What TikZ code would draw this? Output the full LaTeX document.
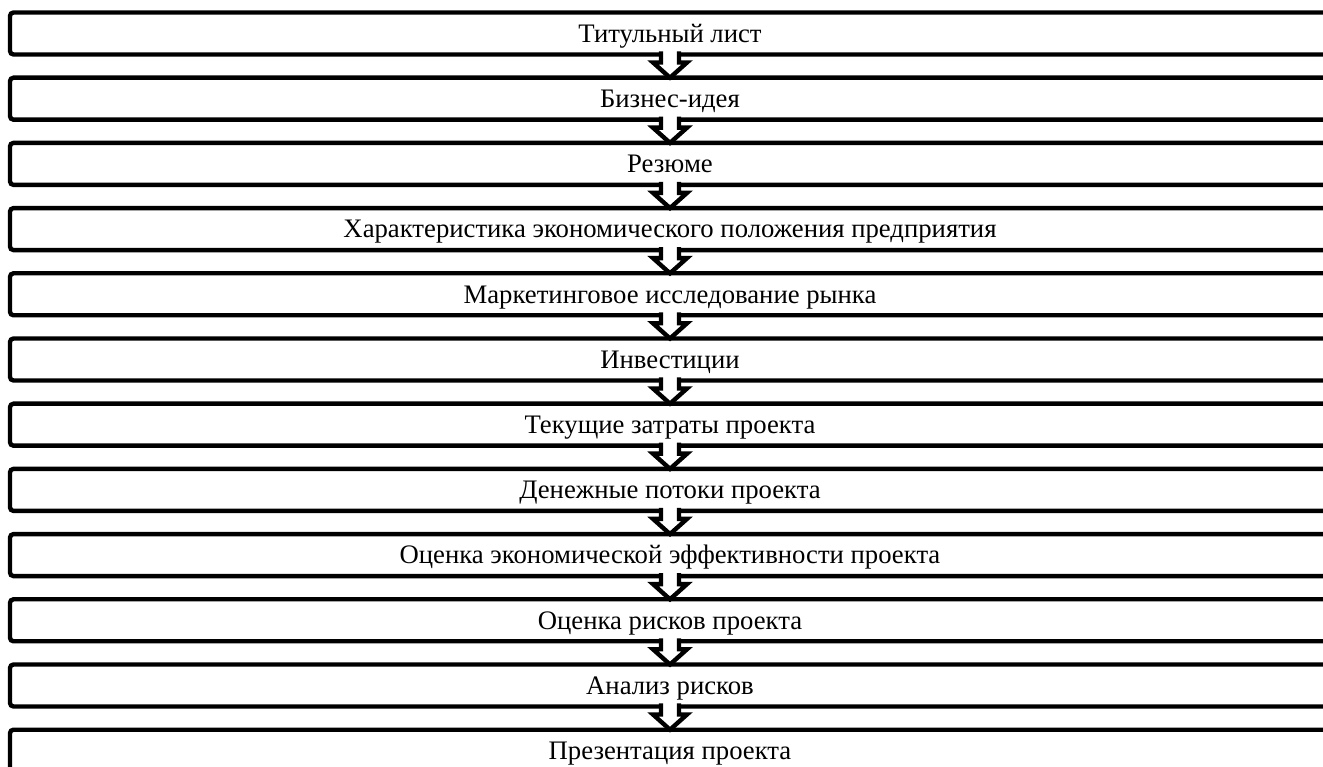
\documentclass[tikz,border=0pt]{standalone}
\usepackage{fontspec}
\setmainfont{Liberation Serif}
\usetikzlibrary{positioning, calc}

\begin{document}
\begin{tikzpicture}[
  node distance=4.64mm,
  part/.style={rectangle, draw, line width=2.5pt, rounded corners=2pt,
               outer sep=0pt, inner sep=0pt, minimum width=264mm,
               minimum height=8.4mm, text height=13pt, text depth=3pt,
               font=\fontsize{15.2}{18}\selectfont},
  flow/.style={draw, fill=white, line width=2.5pt, line join=miter,
               to path={($(\tikztostart.south)+(-0.18,0.06)$)
                 -- ($(\tikztostart.south)+(-0.18,-0.16)$)
                 -- ($(\tikztostart.south)+(-0.34,-0.16)$)
                 -- (\tikztotarget.north)
                 -- ($(\tikztostart.south)+(0.34,-0.16)$)
                 -- ($(\tikztostart.south)+(0.18,-0.16)$)
                 -- ($(\tikztostart.south)+(0.18,0.06)$)}},
]
\useasboundingbox (0,0) rectangle (26.46,-15.34);

% ---- разделы ----
\node[part] (title) at (13.4,-0.67) {Титульный лист};
\node[part, below=of title] (idea) {Бизнес-идея};
\node[part, below=of idea] (resume) {Резюме};
\node[part, below=of resume] (econ) {Характеристика экономического положения предприятия};
\node[part, below=of econ] (market) {Маркетинговое исследование рынка};
\node[part, below=of market] (invest) {Инвестиции};
\node[part, below=of invest] (costs) {Текущие затраты проекта};
\node[part, below=of costs] (cash) {Денежные потоки проекта};
\node[part, below=of cash] (effect) {Оценка экономической эффективности проекта};
\node[part, below=of effect] (riskest) {Оценка рисков проекта};
\node[part, below=of riskest] (riskan) {Анализ рисков};
\node[part, below=of riskan] (present) {Презентация проекта};

% ---- стрелки ----
\draw[flow] (title) to (idea);
\draw[flow] (idea) to (resume);
\draw[flow] (resume) to (econ);
\draw[flow] (econ) to (market);
\draw[flow] (market) to (invest);
\draw[flow] (invest) to (costs);
\draw[flow] (costs) to (cash);
\draw[flow] (cash) to (effect);
\draw[flow] (effect) to (riskest);
\draw[flow] (riskest) to (riskan);
\draw[flow] (riskan) to (present);

\end{tikzpicture}
\end{document}
